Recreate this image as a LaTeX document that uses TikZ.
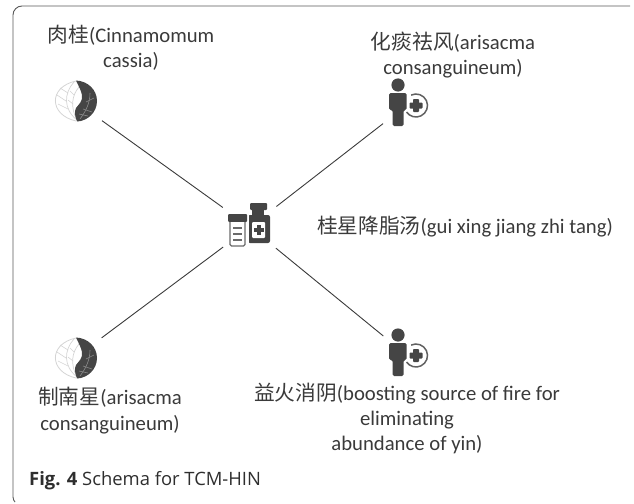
\documentclass[tikz,border=0pt]{standalone}
\usepackage{fontspec}
\setmainfont{Carlito}
\newfontfamily\cjk{Noto Sans CJK SC}
\newfontfamily\capfont{Open Sans}
\definecolor{ink}{HTML}{3A3A3A}
\definecolor{icon}{HTML}{454545}
\definecolor{leafline}{HTML}{D4D4D4}
\definecolor{veinline}{HTML}{8A8A8A}
\tikzset{
  conn/.style={draw=ink,line width=0.9pt},
  lbl/.style={text=ink,font=\fontsize{20.7}{25}\selectfont,align=center,inner sep=0pt},
  anchorcircle/.style={circle,inner sep=0pt,outer sep=0pt,minimum size=#1},
  leafsym/.pic={
    \draw[draw=leafline,line width=0.8pt] (0,-20) .. controls (-28,-14) and (-27,14) .. (0,20);
    \draw[draw=leafline,line width=0.7pt] (-2,-19) .. controls (-12,-8) and (-13,8) .. (1,19);
    \draw[draw=leafline,line width=0.7pt] (3,-14) .. controls (-4,-6) and (-6,6) .. (1,19);
    \draw[draw=leafline,line width=0.6pt] (-8,-8) -- (-16,-13) (-10,0) -- (-19,-6) (-8,8) -- (-18,3) (-2,-6) -- (-6,-10) (-3,3) -- (-8,-1);
    \fill[icon] (0,-20.5) .. controls (12,-20) and (21,-11) .. (21,0)
      .. controls (21,11) and (12,20) .. (1,20.5)
      .. controls (-1,15) and (-2,11) .. (0,7)
      .. controls (3,3) and (7,0) .. (6,-6)
      .. controls (5,-11) and (2,-16) .. (0,-20.5) -- cycle;
    \draw[draw=veinline,line width=0.6pt] (4,18) .. controls (10,10) and (14,2) .. (14,-8);
    \draw[draw=veinline,line width=0.6pt] (7,8) -- (16,11) (10,1) -- (18,-3) (3,13) -- (12,15);
  },
  personsym/.pic={
    \fill[icon] (0,0) circle (6.6);
    \fill[icon,rounded corners=1.5pt] (-9,8) -- (8.5,8) -- (8.5,25) -- (5.5,25) -- (5.5,41) -- (-5.5,41) -- (-5.5,25) -- (-9,25) -- cycle;
    \draw[draw=icon!85!white,line width=1.5pt] (18,20.5) ++(-115:11.5) arc[start angle=-115,end angle=145,radius=11.5];
    \fill[icon,rounded corners=0.8pt] (15,14) rectangle (21,27);
    \fill[icon,rounded corners=0.8pt] (11.5,17.5) rectangle (24.5,23.5);
  }
}
\begin{document}
\begin{tikzpicture}[x=1pt,y=-1pt]
\useasboundingbox (0,0) rectangle (634,503);
% frame
\draw[draw=ink!85!white,line width=0.9pt,rounded corners=9pt] (630,6) -- (13,6) -- (13,497);
\draw[draw=ink!85!white,line width=0.9pt] (13,497) .. controls (13,499) and (14,501) .. (15,502);
% invisible anchor nodes
\node[anchorcircle=67pt] (hub) at (250,227) {};
\node[anchorcircle=64pt] (herbA) at (76,102) {};
\node[anchorcircle=64pt] (herbB) at (76,357) {};
\node[anchorcircle=38pt] (symA) at (398,112) {};
\node[anchorcircle=38pt] (symB) at (398,348) {};
% connectors
\draw[conn] (herbA) -- (hub);
\draw[conn] (symA) -- (hub);
\draw[conn] (herbB) -- (hub);
\draw[conn] (symB) -- (hub);
% leaf icons
\pic at (76,101) {leafsym};
\pic at (76,358) {leafsym};
% person icons
\pic at (398,85) {personsym};
\pic at (398,335) {personsym};
% hub icon
\fill[icon,rounded corners=1pt] (250,203) rectangle (267,210);
\fill[icon] (252,210) rectangle (264,216);
\fill[icon,rounded corners=2pt] (248,215) rectangle (270,243);
\fill[white,rounded corners=1pt] (252,222) rectangle (265,238);
\fill[icon] (256.5,225) rectangle (260.5,235);
\fill[icon] (253.5,228) rectangle (263.5,232);
\fill[white] (246,212) rectangle (248.5,248);
\fill[icon,rounded corners=1pt] (228,214) rectangle (247,222);
\draw[draw=icon!80!white,line width=1.3pt,fill=white,rounded corners=1.5pt] (230,222) -- (230,246) -- (245,246) -- (245,222);
\draw[draw=icon!80!white,line width=1.1pt] (233,228) -- (242,228) (233,234) -- (242,234) (233,240) -- (242,240);
% labels
\node[lbl] (t1) at (131,48) {{\cjk 肉桂}(Cinnamomum\\cassia)};
\node[lbl] (t2) at (453,55) {{\cjk 化痰祛风}(arisacma\\consanguineum)};
\node[lbl,anchor=base] (t3) at (465,233) {{\cjk 桂星降脂汤}(gui xing jiang zhi tang)};
\node[lbl] (t4) at (110,411) {{\cjk 制南星}(arisacma\\[1pt]consanguineum)};
\node[lbl] (t5) at (407,418) {{\cjk 益火消阴}(boosting source of fire for\\eliminating\\abundance of yin)};
\node[anchor=base west,inner sep=0pt,text=ink!80!black,font=\capfont\fontsize{18.4}{22}\selectfont] (cap) at (29,485) {\textbf{Fig. 4} Schema for TCM-HIN};
\end{tikzpicture}
\end{document}
